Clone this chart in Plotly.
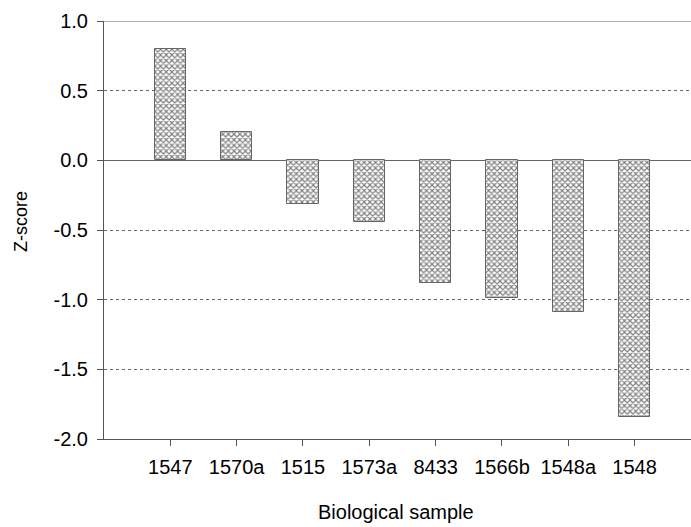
import plotly.graph_objects as go

samples = ["1547", "1570a", "1515", "1573a", "8433", "1566b", "1548a", "1548"]
zscores = [0.80, 0.20, -0.31, -0.44, -0.88, -0.99, -1.09, -1.84]
y_ticks = [1.0, 0.5, 0.0, -0.5, -1.0, -1.5, -2.0]
y_tick_labels = ["1.0", "0.5", "0.0", "-0.5", "-1.0", "-1.5", "-2.0"]

positions = list(range(1, len(samples) + 1))

family = "Liberation Sans, Arial, sans-serif"
tick_font = dict(family=family, size=20, color="black")

fig = go.Figure()
fig.add_trace(go.Bar(
    x=positions,
    y=zscores,
    width=0.47,
    marker=dict(
        color="white",
        line=dict(color="#666666", width=1),
        pattern=dict(shape="x", size=4, solidity=0.5, fgcolor="#000000", bgcolor="white"),
    ),
    showlegend=False,
))

fig.update_layout(
    width=691,
    height=527,
    margin=dict(l=104, r=0, t=21, b=88),
    paper_bgcolor="white",
    plot_bgcolor="white",
    font=tick_font,
    bargap=0,
)

fig.update_xaxes(
    range=[0, 8.85],
    tickmode="array",
    tickvals=positions,
    ticktext=samples,
    tickfont=tick_font,
    ticks="outside",
    ticklen=6,
    tickcolor="#555555",
    showgrid=False,
    zeroline=False,
    showline=True,
    linecolor="#555555",
    linewidth=1,
    ticklabelstandoff=4,
    automargin=False,
)

fig.update_yaxes(
    range=[-2.0, 1.0],
    tickmode="array",
    tickvals=y_ticks,
    ticktext=y_tick_labels,
    tickfont=tick_font,
    ticks="outside",
    ticklen=6,
    tickcolor="#555555",
    showgrid=True,
    gridcolor="#666666",
    griddash="dot",
    gridwidth=1,
    zeroline=True,
    zerolinecolor="#666666",
    zerolinewidth=1,
    showline=True,
    linecolor="#555555",
    linewidth=1,
    ticklabelstandoff=5,
    automargin=False,
)

fig.add_shape(type="line", xref="paper", yref="y", x0=0, x1=1, y0=1.0, y1=1.0,
              line=dict(color="#666666", width=1))

fig.add_annotation(text="Biological sample", xref="paper", yref="paper",
                   x=(396 - 104) / 587, y=-(512 - 439) / 418, xanchor="center", yanchor="middle",
                   showarrow=False, font=dict(family=family, size=20, color="black"))
fig.add_annotation(text="Z-score", xref="paper", yref="paper",
                   x=-(104 - 21) / 587, y=(439 - 222) / 418, xanchor="center", yanchor="middle",
                   textangle=-90, showarrow=False, font=dict(family=family, size=18, color="black"))

fig.write_html("out.html", config={"displayModeBar": False},
               post_script="document.body.style.margin='0px';")
